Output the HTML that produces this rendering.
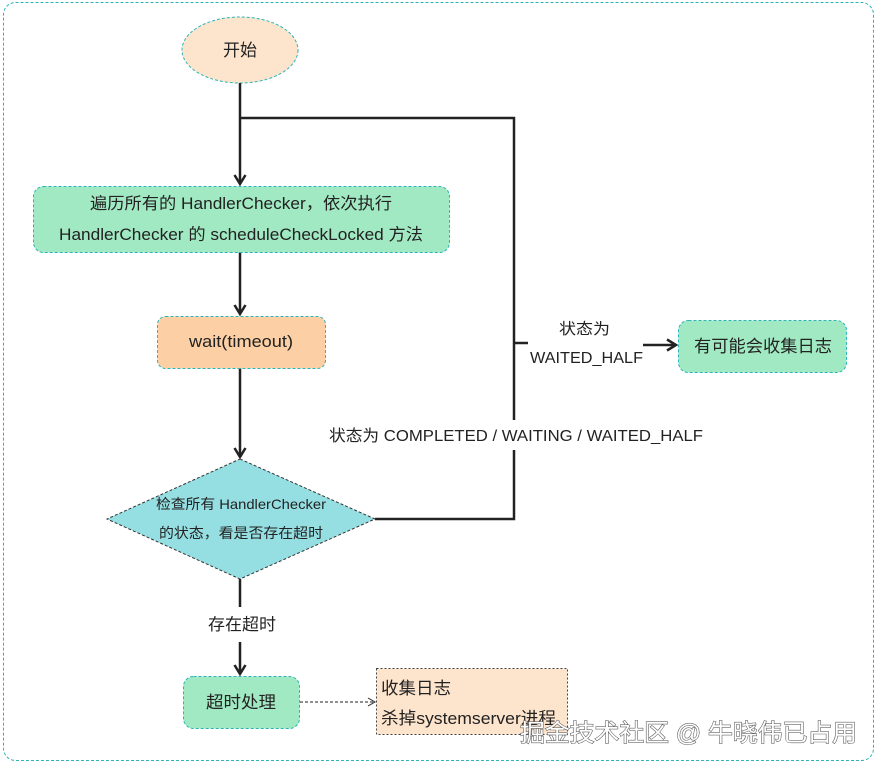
<!DOCTYPE html>
<html><head><meta charset="utf-8"><style>
html,body{margin:0;padding:0;background:#fff;}
svg{display:block;}
text{font-family:"Liberation Sans","Noto Sans CJK SC",sans-serif;fill:#222;}
</style></head><body>
<svg width="877" height="767" viewBox="0 0 877 767" xmlns="http://www.w3.org/2000/svg">
<defs>
<marker id="a" markerWidth="14" markerHeight="14" refX="11" refY="7" orient="auto" markerUnits="userSpaceOnUse"><path d="M2,1.5 L11,7 L2,12.5" fill="none" stroke="#222" stroke-width="2.5"/></marker>
<marker id="b" markerWidth="10" markerHeight="10" refX="9" refY="5" orient="auto" markerUnits="userSpaceOnUse"><path d="M2,1 L9,5 L2,9" fill="none" stroke="#222" stroke-width="1"/></marker>
</defs>
<rect x="3.5" y="2.5" width="870" height="758" rx="12" fill="#fff" stroke="#2bb5b8" stroke-width="1" stroke-dasharray="3,2"/>
<ellipse cx="240" cy="50" rx="58" ry="33" fill="#fde4cc" stroke="#2bb5b8" stroke-dasharray="3,2"/>
<text x="240" y="56" font-size="17" text-anchor="middle">开始</text>
<g stroke="#222" stroke-width="2.5" fill="none">
<line x1="240" y1="83" x2="240" y2="184" marker-end="url(#a)"/>
<polyline points="240,118 514,118 514,420"/>
<polyline points="514,450 514,519 375,519"/>
<line x1="514" y1="343" x2="528" y2="343"/>
<line x1="643" y1="345" x2="676" y2="345" marker-end="url(#a)"/>
<line x1="240" y1="252" x2="240" y2="314" marker-end="url(#a)"/>
<line x1="240" y1="368" x2="240" y2="457" marker-end="url(#a)"/>
<line x1="240" y1="579" x2="240" y2="607"/>
<line x1="240" y1="642" x2="240" y2="674" marker-end="url(#a)"/>
</g>
<line x1="300" y1="702" x2="375" y2="702" stroke="#222" stroke-width="1" stroke-dasharray="3,2" marker-end="url(#b)"/>
<rect x="33.5" y="186.5" width="416" height="66" rx="10" fill="#a1e9c2" stroke="#2bb5b8" stroke-dasharray="3,2"/>
<text x="90" y="209" font-size="16.5" textLength="302" lengthAdjust="spacingAndGlyphs">遍历所有的 HandlerChecker，依次执行</text>
<text x="59" y="240" font-size="16.5" textLength="364" lengthAdjust="spacingAndGlyphs">HandlerChecker 的 scheduleCheckLocked 方法</text>
<rect x="157.5" y="316.5" width="168" height="52" rx="8" fill="#fcd0a4" stroke="#2bb5b8" stroke-dasharray="3,2"/>
<text x="189" y="347" font-size="17" textLength="104" lengthAdjust="spacingAndGlyphs">wait(timeout)</text>
<polygon points="240,459 375,519 240,579 107,519" fill="#95dfe3" stroke="#333" stroke-dasharray="3,2"/>
<text x="156" y="509" font-size="14" textLength="170" lengthAdjust="spacingAndGlyphs">检查所有 HandlerChecker</text>
<text x="159" y="538" font-size="14" textLength="164" lengthAdjust="spacingAndGlyphs">的状态，看是否存在超时</text>
<text x="208" y="630" font-size="16.5" textLength="68" lengthAdjust="spacingAndGlyphs">存在超时</text>
<rect x="183.5" y="676.5" width="116" height="52" rx="10" fill="#a1e9c2" stroke="#2bb5b8" stroke-dasharray="3,2"/>
<text x="206" y="708" font-size="17" textLength="70" lengthAdjust="spacingAndGlyphs">超时处理</text>
<rect x="376.5" y="668.5" width="191" height="66" fill="#fde4cc" stroke="#444" stroke-dasharray="2,2"/>
<text x="381" y="694" font-size="17" textLength="70" lengthAdjust="spacingAndGlyphs">收集日志</text>
<text x="381" y="724" font-size="17" textLength="175" lengthAdjust="spacingAndGlyphs">杀掉systemserver进程</text>
<text x="559" y="334" font-size="15.5" textLength="51" lengthAdjust="spacingAndGlyphs">状态为</text>
<text x="530" y="363" font-size="15.5" textLength="113" lengthAdjust="spacingAndGlyphs">WAITED_HALF</text>
<rect x="678.5" y="320.5" width="168" height="52" rx="10" fill="#a1e9c2" stroke="#2bb5b8" stroke-dasharray="3,2"/>
<text x="694" y="352" font-size="17" textLength="138" lengthAdjust="spacingAndGlyphs">有可能会收集日志</text>
<text x="329" y="441" font-size="16" textLength="374" lengthAdjust="spacingAndGlyphs">状态为 COMPLETED / WAITING / WAITED_HALF</text>
<text x="520" y="741" font-size="24" textLength="337" lengthAdjust="spacingAndGlyphs" style="fill:#fff;stroke:#666;stroke-width:1.2;paint-order:stroke">掘金技术社区 @ 牛晓伟已占用</text>
</svg>
</body></html>
